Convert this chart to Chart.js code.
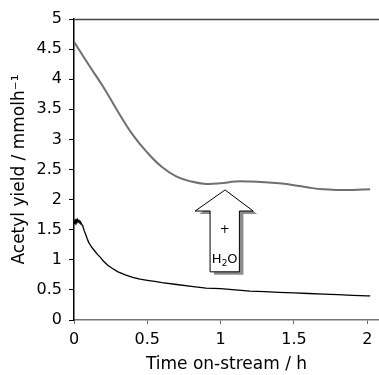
<!DOCTYPE html>
<html><head><meta charset="utf-8">
<script src="https://cdn.jsdelivr.net/npm/chart.js@4/dist/chart.umd.min.js"></script>
<style>html,body{margin:0;padding:0;background:#fff;} #wrap{width:379px;height:375px;}</style>
</head><body><div id="wrap"><canvas id="c" width="379" height="375"></canvas></div>
<script>
// ---- data ----
const timeBlack  = [0, 0.004, 0.008, 0.012, 0.016, 0.02, 0.025, 0.03, 0.035, 0.04, 0.045, 0.05, 0.055, 0.06, 0.065, 0.07, 0.08, 0.09, 0.10, 0.11, 0.12, 0.14, 0.16, 0.18, 0.20, 0.23, 0.26, 0.30, 0.35, 0.40, 0.45, 0.50, 0.55, 0.60, 0.70, 0.80, 0.90, 1.00, 1.10, 1.20, 1.30, 1.40, 1.50, 1.60, 1.70, 1.80, 1.90, 2.00, 2.02];
const yieldBlack = [1.60, 1.64, 1.66, 1.63, 1.66, 1.64, 1.67, 1.63, 1.65, 1.62, 1.63, 1.60, 1.58, 1.56, 1.52, 1.48, 1.42, 1.35, 1.29, 1.25, 1.21, 1.15, 1.09, 1.04, 0.98, 0.91, 0.86, 0.80, 0.75, 0.71, 0.68, 0.66, 0.64, 0.62, 0.59, 0.56, 0.53, 0.52, 0.50, 0.48, 0.47, 0.46, 0.45, 0.44, 0.43, 0.42, 0.41, 0.40, 0.40];
const timeGray   = [0, 0.1, 0.2, 0.3, 0.4, 0.5, 0.6, 0.7, 0.8, 0.9, 1.0, 1.1, 1.2, 1.3, 1.4, 1.5, 1.6, 1.7, 1.8, 1.9, 2.02];
const yieldGray  = [4.62, 4.24, 3.87, 3.46, 3.08, 2.78, 2.54, 2.38, 2.30, 2.26, 2.27, 2.30, 2.30, 2.29, 2.27, 2.24, 2.20, 2.17, 2.16, 2.16, 2.17];
const xTicks = [0, 0.5, 1, 1.5, 2];
const yTicks = [0, 0.5, 1, 1.5, 2, 2.5, 3, 3.5, 4, 4.5, 5];
const xTitle = 'Time on-stream / h';
const yTitle = 'Acetyl yield / mmolh\u207B\u00B9';
const arrowPlus = '+';
const arrowText = ['H', '2', 'O'];

// arrow annotation geometry in data units
const arrowGeom = { tipX: 1.03, tipY: 2.16, headY: 1.81, headL: 0.826, headR: 1.222, shaftL: 0.928, shaftR: 1.128, baseY: 0.80, plusY: 1.5, textY: 1.0 };

const FONT = 'DejaVu Sans';

const decor = {
  id: 'decor',
  afterDatasetsDraw(chart) {
    const {ctx, chartArea, scales: {x, y}} = chart;
    const yt = Math.round(y.getPixelForValue(5)) + 0.5;
    ctx.save();
    ctx.strokeStyle = '#444';
    ctx.lineWidth = 1.5;
    ctx.beginPath(); ctx.moveTo(chartArea.left, yt); ctx.lineTo(chartArea.right, yt); ctx.stroke();

    const g = arrowGeom;
    const pts = [
      [g.tipX, g.tipY], [g.headR, g.headY], [g.shaftR, g.headY], [g.shaftR, g.baseY],
      [g.shaftL, g.baseY], [g.shaftL, g.headY], [g.headL, g.headY]
    ].map(p => [x.getPixelForValue(p[0]), y.getPixelForValue(p[1])]);
    const path = (dx, dy) => {
      ctx.beginPath();
      pts.forEach((p, i) => i ? ctx.lineTo(p[0] + dx, p[1] + dy) : ctx.moveTo(p[0] + dx, p[1] + dy));
      ctx.closePath();
    };
    ctx.fillStyle = '#8c8c8c';
    path(4, 3); ctx.fill();
    ctx.fillStyle = '#fff';
    path(0, 0); ctx.fill();
    ctx.strokeStyle = '#000'; ctx.lineWidth = 1;
    ctx.stroke();

    const cx = x.getPixelForValue((g.shaftL + g.shaftR) / 2);
    ctx.fillStyle = '#000';
    ctx.textAlign = 'center'; ctx.textBaseline = 'middle';
    ctx.font = '12px ' + FONT;
    ctx.fillText(arrowPlus, cx, y.getPixelForValue(g.plusY));
    const ty = y.getPixelForValue(g.textY);
    ctx.font = '13px ' + FONT;
    const wH = ctx.measureText(arrowText[0]).width, wO = ctx.measureText(arrowText[2]).width;
    ctx.font = '9px ' + FONT;
    const w2 = ctx.measureText(arrowText[1]).width;
    let sx = cx - (wH + w2 + wO) / 2;
    ctx.textAlign = 'left';
    ctx.font = '13px ' + FONT;
    ctx.fillText(arrowText[0], sx, ty); sx += wH;
    ctx.font = '9px ' + FONT;
    ctx.fillText(arrowText[1], sx, ty + 4); sx += w2;
    ctx.font = '13px ' + FONT;
    ctx.fillText(arrowText[2], sx, ty);
    ctx.restore();
  }
};

new Chart(document.getElementById('c'), {
  type: 'line',
  data: {
    datasets: [
      { data: timeBlack.map((t, i) => ({x: t, y: yieldBlack[i]})), borderColor: '#000', borderWidth: 1.3, pointRadius: 0, tension: 0 },
      { data: timeGray.map((t, i) => ({x: t, y: yieldGray[i]})), borderColor: '#6f6f6f', borderWidth: 2, pointRadius: 0, tension: 0.4 }
    ]
  },
  options: {
    responsive: false,
    animation: false,
    events: [],
    layout: { padding: { top: 19, right: 0, left: 0, bottom: 0 } },
    plugins: { legend: { display: false }, tooltip: { enabled: false } },
    scales: {
      x: {
        type: 'linear', min: 0, max: 2.08,
        afterBuildTicks: s => { s.ticks = xTicks.map(v => ({value: v})); },
        afterFit: s => { s.height = 55; },
        grid: { drawOnChartArea: false, tickLength: 4, tickColor: '#666', lineWidth: 1 },
        border: { color: '#777', width: 1.5 },
        ticks: { color: '#000', font: { family: FONT, size: 16 }, padding: 6, maxRotation: 0, callback: v => String(v) },
        title: { display: true, text: xTitle, color: '#000', font: { family: FONT, size: 17 }, padding: { top: 0, bottom: 0 } }
      },
      y: {
        type: 'linear', min: 0, max: 5,
        afterBuildTicks: s => { s.ticks = yTicks.map(v => ({value: v})); },
        afterFit: s => { s.width = 74; },
        grid: { drawOnChartArea: false, tickLength: 5, tickColor: '#000', lineWidth: 1 },
        border: { color: '#000', width: 1.5 },
        ticks: { color: '#000', font: { family: FONT, size: 16 }, padding: 7, callback: v => String(v) },
        title: { display: true, text: yTitle, color: '#000', font: { family: FONT, size: 17 }, padding: { top: 9, bottom: 0 } }
      }
    }
  },
  plugins: [decor]
});
</script>
</body></html>
